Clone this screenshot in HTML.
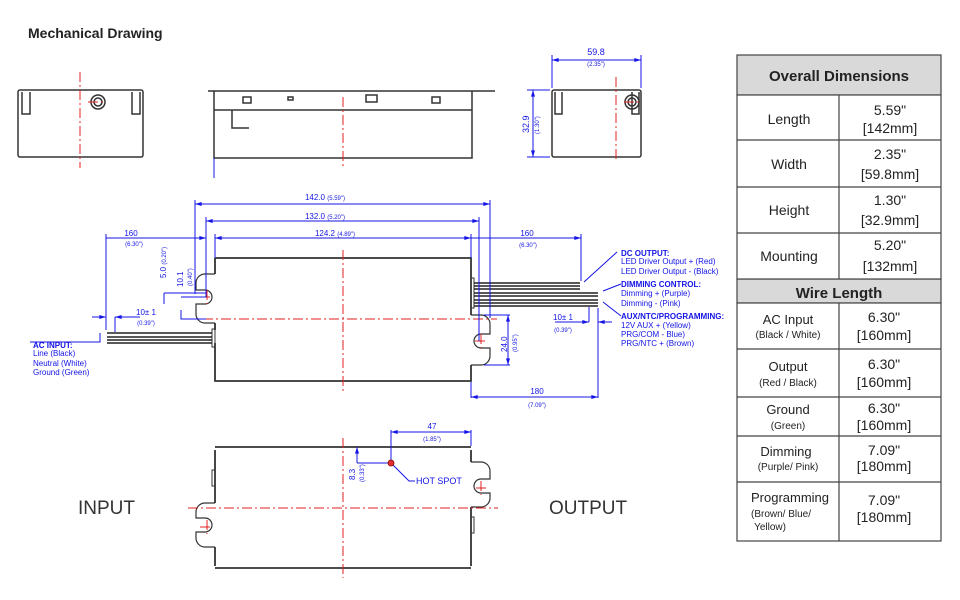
<!DOCTYPE html>
<html><head><meta charset="utf-8"><style>
body{margin:0;background:#fff;}
svg{display:block;font-family:"Liberation Sans",Arial,sans-serif;}
</style></head><body>
<svg width="960" height="600" viewBox="0 0 960 600" xmlns="http://www.w3.org/2000/svg">
<defs>
<marker id="a" viewBox="0 0 10 6" refX="10" refY="3" markerWidth="7" markerHeight="4" orient="auto-start-reverse"><path d="M0,0L10,3L0,6z" fill="#1414e6"/></marker>
</defs>
<text x="28" y="38" font-size="14" font-weight="bold" fill="#222">Mechanical Drawing</text>

<!-- top views -->
<g fill="none" stroke="#333" stroke-width="1.5">
<rect x="18" y="90" width="125" height="67" rx="2"/>
<path d="M22,92v22h8v-22M132,92v22h8v-22"/>
<circle cx="98" cy="102" r="7"/><circle cx="98" cy="102" r="4"/>
<path d="M208,91H495M214,91v67h258v-67M214,110H472"/>
<path d="M232,110v18h17"/>
<rect x="243" y="97" width="8" height="6"/><rect x="288" y="97" width="5" height="3"/><rect x="366" y="95" width="11" height="7"/><rect x="432" y="97" width="8" height="6"/>
<rect x="552" y="90" width="89" height="67" rx="2"/>
<path d="M555,92v22h7v-22M632,92v22h7v-22"/>
<circle cx="632" cy="102" r="7"/><circle cx="632" cy="102" r="4"/>
</g>
<g stroke="#e02020" stroke-width="1" stroke-dasharray="10,3,2,3" fill="none">
<path d="M80,72V168M343,97V168M616,77V162M88,102h18M624,102h18"/>
</g>
<g stroke="#1414e6" stroke-width="1" fill="none">
<path d="M214,158V178"/>
<path d="M552,88V55M641,88V55"/><path d="M552,60H641" marker-start="url(#a)" marker-end="url(#a)"/>
<path d="M550,90H527M550,157H527"/><path d="M533,90V157" marker-start="url(#a)" marker-end="url(#a)"/>
</g>
<g fill="#1414e6">
<text x="596" y="55" font-size="9" text-anchor="middle">59.8</text>
<text x="596" y="66" font-size="6" text-anchor="middle">(2.35")</text>
<text x="0" y="0" font-size="9" transform="translate(529,133) rotate(-90)">32.9</text>
<text x="0" y="0" font-size="6" transform="translate(539,134) rotate(-90)">(1.30")</text>
</g>

<!-- side view -->
<g fill="none" stroke="#333" stroke-width="1.8">
<path d="M215,258H471V315M471,365V381H215V343M215,330V323 M215,274V258"/>
<path d="M215,274H205a9,9 0 0 0 -9,9V290H205a7,7 0 0 1 0,14H196V314a9,9 0 0 0 9,9H215" stroke-width="1.2"/>
<path d="M471,315H481a9,9 0 0 1 9,9V334H481a7,7 0 0 0 0,14H490V356a9,9 0 0 1 -9,9H471" stroke-width="1.2"/>
<rect x="212" y="329" width="3" height="18" stroke-width="1"/>
<rect x="471" y="278" width="3" height="30" stroke-width="1"/>
</g>
<g stroke="#222" stroke-width="1.5">
<path d="M107,333H212M107,337H212M107,340H212M107,343H212"/>
<path d="M474,283H580M474,286H580M474,289H580M474,293H598M474,296H598M474,300H598M474,303H598M474,306H598"/>
</g>
<g stroke="#e02020" stroke-width="1" stroke-dasharray="10,3,2,3" fill="none">
<path d="M343,250V392M185,319H497M200,297h13M207,290v14M475,341h13M481,334v14"/>
</g>
<g stroke="#1414e6" stroke-width="1" fill="none">
<path d="M195,294V200M490,318V200M206,297V217M479,341V217M215,258V234M471,258V234M106,330V234M581,281V234"/>
<path d="M195,204H490" marker-start="url(#a)" marker-end="url(#a)"/>
<path d="M206,221H479" marker-start="url(#a)" marker-end="url(#a)"/>
<path d="M215,238H471" marker-start="url(#a)" marker-end="url(#a)"/>
<path d="M106,238H206" marker-end="url(#a)"/>
<path d="M471,238H581" marker-end="url(#a)"/>
<path d="M164,293H206M164,304V293M181,297H206M181,310V319H206"/>
<path d="M92,317H106" marker-end="url(#a)"/><path d="M140,317H115" marker-end="url(#a)"/><path d="M115,317V332"/>
<path d="M93,342H100V333"/><path d="M30,342H93"/>
<path d="M484,315H510M484,365H510"/><path d="M508,315V365" marker-start="url(#a)" marker-end="url(#a)"/>
<path d="M471,382V398M598,308V398"/><path d="M471,397H598" marker-start="url(#a)" marker-end="url(#a)"/>
<path d="M555,322H589" marker-end="url(#a)"/><path d="M589,322V307"/><path d="M612,322H598" marker-end="url(#a)"/>
<path d="M584,282L617,252M603,291L621,284M603,302L621,316"/>
</g>
<g fill="#1414e6" font-size="8">
<text x="325" y="200" text-anchor="middle">142.0 <tspan font-size="6">(5.59")</tspan></text>
<text x="325" y="219" text-anchor="middle">132.0 <tspan font-size="6">(5.20")</tspan></text>
<text x="335" y="236" text-anchor="middle">124.2 <tspan font-size="6">(4.89")</tspan></text>
<text x="131" y="236" text-anchor="middle">160</text><text x="134" y="246" font-size="6" text-anchor="middle">(6.30")</text>
<text x="527" y="236" text-anchor="middle">160</text><text x="528" y="247" font-size="6" text-anchor="middle">(6.30")</text>
<text x="146" y="315" text-anchor="middle">10± 1</text><text x="146" y="325" font-size="6" text-anchor="middle">(0.39")</text>
<text x="563" y="320" text-anchor="middle">10± 1</text><text x="563" y="332" font-size="6" text-anchor="middle">(0.39")</text>
<text x="537" y="394" text-anchor="middle">180</text><text x="537" y="407" font-size="6" text-anchor="middle">(7.09")</text>
<text transform="translate(166,278) rotate(-90)">5.0 <tspan font-size="6">(0.20")</tspan></text>
<text transform="translate(183,287) rotate(-90)">10.1</text><text font-size="6" transform="translate(192,286) rotate(-90)">(0.40")</text>
<text transform="translate(507,352) rotate(-90)">24.0</text><text font-size="6" transform="translate(517,352) rotate(-90)">(0.95")</text>
<text x="33" y="348" font-weight="bold">AC INPUT:</text>
<text x="33" y="356">Line (Black)</text><text x="33" y="366">Neutral (White)</text><text x="33" y="375">Ground (Green)</text>
<text x="621" y="256" font-weight="bold">DC OUTPUT:</text>
<text x="621" y="264">LED Driver Output + (Red)</text><text x="621" y="274">LED Driver Output - (Black)</text>
<text x="621" y="287" font-weight="bold">DIMMING CONTROL:</text>
<text x="621" y="296">Dimming + (Purple)</text><text x="621" y="306">Dimming - (Pink)</text>
<text x="621" y="319" font-weight="bold">AUX/NTC/PROGRAMMING:</text>
<text x="621" y="328">12V AUX + (Yellow)</text><text x="621" y="337">PRG/COM - Blue)</text><text x="621" y="346">PRG/NTC + (Brown)</text>
</g>

<!-- bottom view -->
<g fill="none" stroke="#333" stroke-width="1.8">
<path d="M215,447H471M215,568H471M215,450V503M215,547V566M471,450V462M471,507V566"/>
<path d="M215,503H205a9,9 0 0 0 -9,9V518H205a7,7 0 0 1 0,14H196V538a9,9 0 0 0 9,9H215" stroke-width="1.2"/>
<path d="M471,462H481a9,9 0 0 1 9,9V479H481a7,7 0 0 0 0,14H490V498a9,9 0 0 1 -9,9H471" stroke-width="1.2"/>
<rect x="212" y="470" width="3" height="16" stroke-width="1"/><rect x="471" y="517" width="3" height="16" stroke-width="1"/>
</g>
<g stroke="#e02020" stroke-width="1" stroke-dasharray="10,3,2,3" fill="none">
<path d="M343,438V578M188,508H498M200,527h12M207,520v14M476,488h12M481,481v14"/>
</g>
<g stroke="#1414e6" stroke-width="1" fill="none">
<path d="M391,463V430M471,446V430"/><path d="M391,432H471" marker-start="url(#a)" marker-end="url(#a)"/>
<path d="M357,463H391M357,447V463"/><path d="M357,463V447" marker-end="url(#a)"/>
<path d="M391,463L409,481H415"/>
</g>
<circle cx="391" cy="463" r="3" fill="#e03030" stroke="#800" stroke-width="0.8"/>
<g fill="#1414e6" font-size="8">
<text x="432" y="429" text-anchor="middle">47</text><text x="432" y="441" font-size="6" text-anchor="middle">(1.85")</text>
<text transform="translate(355,480) rotate(-90)">8.3</text><text font-size="6" transform="translate(364,482) rotate(-90)">(0.33")</text>
<text x="416" y="484" font-size="9">HOT  SPOT</text>
</g>
<text x="78" y="514" font-size="19" fill="#333">INPUT</text>
<text x="549" y="514" font-size="19" fill="#333">OUTPUT</text>

<!-- table -->
<g stroke="#444" stroke-width="1.2">
<rect x="737" y="55" width="204" height="40" fill="#d9d9d9"/>
<rect x="737" y="279" width="204" height="24" fill="#d9d9d9"/>
<rect x="737" y="95" width="204" height="184" fill="#fff"/>
<rect x="737" y="303" width="204" height="238" fill="#fff"/>
<path d="M839,95V279M839,303V541M737,140H941M737,187H941M737,233H941M737,349H941M737,397H941M737,436H941M737,482H941" fill="none"/>
</g>
<g fill="#222" text-anchor="middle" font-size="14">
<text x="839" y="81" font-size="15" font-weight="bold">Overall Dimensions</text>
<text x="839" y="298" font-size="15" font-weight="bold">Wire Length</text>
<text x="789" y="124">Length</text><text x="890" y="115">5.59"</text><text x="890" y="133">[142mm]</text>
<text x="789" y="169">Width</text><text x="890" y="159">2.35"</text><text x="890" y="179">[59.8mm]</text>
<text x="789" y="215">Height</text><text x="890" y="205">1.30"</text><text x="890" y="225">[32.9mm]</text>
<text x="789" y="261">Mounting</text><text x="890" y="250">5.20"</text><text x="890" y="271">[132mm]</text>
<text x="788" y="324" font-size="13">AC Input</text><text x="788" y="338" font-size="10">(Black / White)</text>
<text x="884" y="322">6.30"</text><text x="884" y="340">[160mm]</text>
<text x="788" y="371" font-size="13">Output</text><text x="788" y="386" font-size="10">(Red / Black)</text>
<text x="884" y="369">6.30"</text><text x="884" y="387">[160mm]</text>
<text x="788" y="414" font-size="13">Ground</text><text x="788" y="429" font-size="10">(Green)</text>
<text x="884" y="413">6.30"</text><text x="884" y="430">[160mm]</text>
<text x="786" y="456" font-size="13">Dimming</text><text x="788" y="470" font-size="10">(Purple/ Pink)</text>
<text x="884" y="455">7.09"</text><text x="884" y="471">[180mm]</text>
<text x="790" y="502" font-size="13">Programming</text><text x="781" y="517" font-size="10">(Brown/ Blue/</text><text x="770" y="530" font-size="10">Yellow)</text>
<text x="884" y="505">7.09"</text><text x="884" y="522">[180mm]</text>
</g>
</svg>
</body></html>
